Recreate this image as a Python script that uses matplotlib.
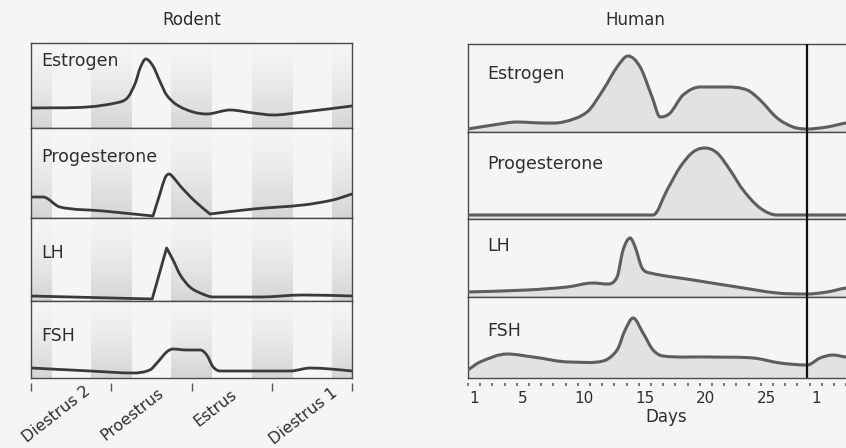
import numpy as np
import matplotlib
matplotlib.use("Agg")
import matplotlib.pyplot as plt
from matplotlib.path import Path
from matplotlib.patches import PathPatch
from matplotlib.colors import LinearSegmentedColormap

W, H = 846, 448
BG = "#f5f5f5"
TXT = "#2e2e2e"

hormones = ["Estrogen", "Progesterone", "LH", "FSH"]

# ---- rodent data (x in cycle-stage units, y = relative level) ----
rod_stages = ["Diestrus 2", "Proestrus", "Estrus", "Diestrus 1"]
rod_ticks = [0, 1, 2, 3, 4]

rod_estr_x = [0, 0.70, 1.11, 1.21, 1.30, 1.36, 1.43, 1.52, 1.61, 1.69, 1.82, 2.02, 2.19, 2.48, 2.77, 3.02, 3.39, 4.0]
rod_estr_y = [20, 21, 26, 31, 45, 60, 69, 62, 46, 33, 23, 16, 14, 18, 15, 13, 16, 22]

rod_prog_x = [0, 0.15, 0.36, 0.90, 1.52, 1.61, 1.67, 1.72, 1.78, 1.86, 2.04, 2.23, 2.77, 3.39, 3.76, 4.0]
rod_prog_y = [21, 21, 11, 7, 2, 25, 40, 44, 40, 32, 17, 4, 9, 13, 18, 24]

rod_lh_x = [0, 1.51, 1.69, 1.77, 1.86, 1.98, 2.11, 2.27, 2.85, 3.39, 4.0]
rod_lh_y = [5, 2, 53, 41, 26, 14, 8, 4, 4, 6, 5]

rod_fsh_x = [0, 0.74, 1.27, 1.48, 1.58, 1.69, 1.77, 1.94, 2.11, 2.19, 2.27, 2.36, 3.23, 3.48, 3.73, 4.0]
rod_fsh_y = [10, 7, 5, 8, 16, 26, 29, 28, 28, 23, 11, 7, 7, 10, 9, 7]

# ---- human data (x in days) ----
hum_estr_x = [0.5, 2.56, 4.52, 6.66, 8.30, 10.26, 11.57, 12.72, 13.62, 14.61, 15.59, 16.25, 17.07, 18.13,
              19.52, 21.74, 23.38, 24.44, 25.84, 27.15, 28.30, 29.93, 31.49, 33.5]
hum_estr_y = [3, 7, 10, 9, 10, 20, 42, 65, 76, 65, 35, 15, 19, 37, 45, 45, 42, 32, 14, 5, 3, 5, 9, 12]

hum_prog_x = [0.5, 13.0, 15.67, 16.82, 17.89, 18.95, 19.93, 20.92, 21.98, 23.05, 24.44, 25.84, 31.49, 33.5]
hum_prog_y = [4, 4, 4, 29, 52, 67, 71, 66, 49, 29, 11, 4, 4, 4]

hum_lh_x = [0.5, 5.34, 8.62, 10.75, 11.90, 12.72, 13.21, 13.79, 14.20, 14.77, 15.43, 18.95, 22.56, 25.84,
            28.30, 29.93, 31.49, 33.5]
hum_lh_y = [5, 7, 10, 14, 13, 20, 47, 59, 50, 29, 24, 17, 10, 4, 3, 5, 9, 11]

hum_fsh_x = [0.5, 1.49, 3.70, 5.84, 8.87, 11.57, 12.72, 13.38, 14.03, 14.85, 15.67, 16.49, 20.34, 23.87,
             26.08, 28.30, 29.36, 30.43, 31.49, 33.5]
hum_fsh_y = [8, 16, 24, 21, 16, 17, 28, 48, 60, 45, 28, 22, 21, 20, 15, 13, 20, 23, 21, 20]

hum_tick_days = [1, 5, 10, 15, 20, 25, 29, 32]
hum_tick_labels = ["1", "5", "10", "15", "20", "25", "1", "4"]
cycle_end = 28.3

rodent = [(rod_estr_x, rod_estr_y, ()), (rod_prog_x, rod_prog_y, (4, 11)),
          (rod_lh_x, rod_lh_y, (1, 2)), (rod_fsh_x, rod_fsh_y, ())]
human = [(hum_estr_x, hum_estr_y), (hum_prog_x, hum_prog_y),
         (hum_lh_x, hum_lh_y), (hum_fsh_x, hum_fsh_y)]


def curve_path(xs, ys, corners=(), base=None):
    # cubic hermite through the read points, drawn as bezier segments
    x = np.asarray(xs, float)
    y = np.asarray(ys, float)
    n = len(x)
    d = np.diff(y) / np.diff(x)
    sl = np.zeros(n)
    sr = np.zeros(n)
    sl[0] = sr[0] = d[0]
    sl[-1] = sr[-1] = d[-1]
    for i in range(1, n - 1):
        if i in corners:
            sl[i], sr[i] = d[i - 1], d[i]
        elif d[i - 1] * d[i] <= 0:
            sl[i] = sr[i] = 0
        else:
            sl[i] = sr[i] = (y[i + 1] - y[i - 1]) / (x[i + 1] - x[i - 1])
    verts = [(x[0], y[0])]
    codes = [Path.MOVETO]
    for i in range(n - 1):
        dx = x[i + 1] - x[i]
        verts += [(x[i] + dx / 3, y[i] + sr[i] * dx / 3),
                  (x[i + 1] - dx / 3, y[i + 1] - sl[i + 1] * dx / 3),
                  (x[i + 1], y[i + 1])]
        codes += [Path.CURVE4] * 3
    if base is not None:
        verts += [(x[-1], base), (x[0], base), (x[0], y[0])]
        codes += [Path.LINETO, Path.LINETO, Path.CLOSEPOLY]
    return Path(verts, codes)


def rect(x0, x1, y0, y1):
    return [x0 / W, 1 - y1 / H, (x1 - x0) / W, (y1 - y0) / H]


def frame(ax):
    ax.set_facecolor(BG)
    for s in ax.spines.values():
        s.set_color("#4a4a4a")
        s.set_linewidth(1.0)
    ax.set_xticks([])
    ax.set_yticks([])


fig = plt.figure(figsize=(W / 100, H / 100), dpi=100, facecolor=BG)

band_cmap = LinearSegmentedColormap.from_list("band", [BG, "#d5d5d5"])
grad = (np.linspace(0, 1, 60) ** 1.4)[:, None]

# ---------------- rodent ----------------
rod_edges = [43, 128, 218, 301, 378]
rod_label_off = [9, 20, 26, 26]
for k, (xs, ys, corners) in enumerate(rodent):
    y0, y1 = rod_edges[k], rod_edges[k + 1]
    ph = y1 - y0
    ax = fig.add_axes(rect(31, 352, y0, y1))
    frame(ax)
    for c in rod_ticks:
        ax.imshow(grad, extent=[c - 0.25, c + 0.25, 0, ph], cmap=band_cmap, vmin=0, vmax=1,
                  aspect="auto", zorder=0, interpolation="bilinear")
    ax.add_patch(PathPatch(curve_path(xs, ys, corners), facecolor="none", edgecolor="#3a3a3a",
                           lw=2.0, capstyle="round", joinstyle="round", zorder=3))
    ax.set_xlim(0, 4)
    ax.set_ylim(0, ph)
    ax.annotate(hormones[k], xy=(0, 1), xycoords="axes fraction", xytext=(10, -rod_label_off[k]),
                textcoords="offset pixels", ha="left", va="top", fontsize=12.5, color=TXT)
    if k == 3:
        ax.spines["bottom"].set_position(("outward", 3.6))
        ax.spines["bottom"].set_visible(False)
        ax.axhline(0, color="#4a4a4a", lw=1.0, clip_on=False, zorder=4)
        ax.set_xticks(rod_ticks)
        ax.set_xticklabels([])
        ax.tick_params(axis="x", length=5.5, width=1.0, color="#555555", direction="out")
        lab_x = [0.77, 1.69, 2.60, 3.85]
        lab_off = [-5, -7, -9, -7]
        for name, lx, lo in zip(rod_stages, lab_x, lab_off):
            ax.annotate(name, xy=(lx, 0), xycoords=("data", "axes fraction"), xytext=(0, lo),
                        textcoords="offset pixels", ha="right", va="top", rotation=38,
                        fontsize=11.5, color=TXT, annotation_clip=False)

# ---------------- human ----------------
hum_edges = [44, 132, 219, 297, 378]
hum_label_off = [21, 23, 18, 25]
px_per_day = 12.2
x_left = 468
x_right = x_left + 33 * px_per_day
for k, (xs, ys) in enumerate(human):
    y0, y1 = hum_edges[k], hum_edges[k + 1]
    ph = y1 - y0
    ax = fig.add_axes(rect(x_left, x_right, y0, y1))
    frame(ax)
    ax.add_patch(PathPatch(curve_path(xs, ys, base=0), facecolor="#e2e2e2", edgecolor="none", zorder=1))
    ax.add_patch(PathPatch(curve_path(xs, ys), facecolor="none", edgecolor="#5e5e5e",
                           lw=2.2, capstyle="round", joinstyle="round", zorder=3))
    ax.axvline(cycle_end, color="#111111", lw=1.6, zorder=4)
    ax.set_xlim(0.5, 33.5)
    ax.set_ylim(0, ph)
    ax.annotate(hormones[k], xy=(0, 1), xycoords="axes fraction", xytext=(19, -hum_label_off[k]),
                textcoords="offset pixels", ha="left", va="top", fontsize=12.5, color=TXT)
    if k == 3:
        ax.spines["bottom"].set_position(("outward", 3.6))
        ax.spines["bottom"].set_visible(False)
        ax.axhline(0, color="#4a4a4a", lw=1.0, clip_on=False, zorder=4)
        ax.set_xticks(hum_tick_days)
        ax.set_xticklabels(hum_tick_labels, fontsize=11, color=TXT)
        ax.tick_params(axis="x", which="major", length=0, pad=6)
        ax.set_xticks(np.arange(0.5, 34, 1.0), minor=True)
        ax.tick_params(axis="x", which="minor", length=2.5, width=1.4, color="#777777", direction="out")

fig.text(666 / W, 1 - 417 / H, "Days", ha="center", va="center", fontsize=12, color=TXT)
fig.text(192 / W, 1 - 20 / H, "Rodent", ha="center", va="center", fontsize=12, color=TXT)
fig.text(635 / W, 1 - 20 / H, "Human", ha="center", va="center", fontsize=12, color=TXT)

fig.savefig("out.png", dpi=100, facecolor=BG)
